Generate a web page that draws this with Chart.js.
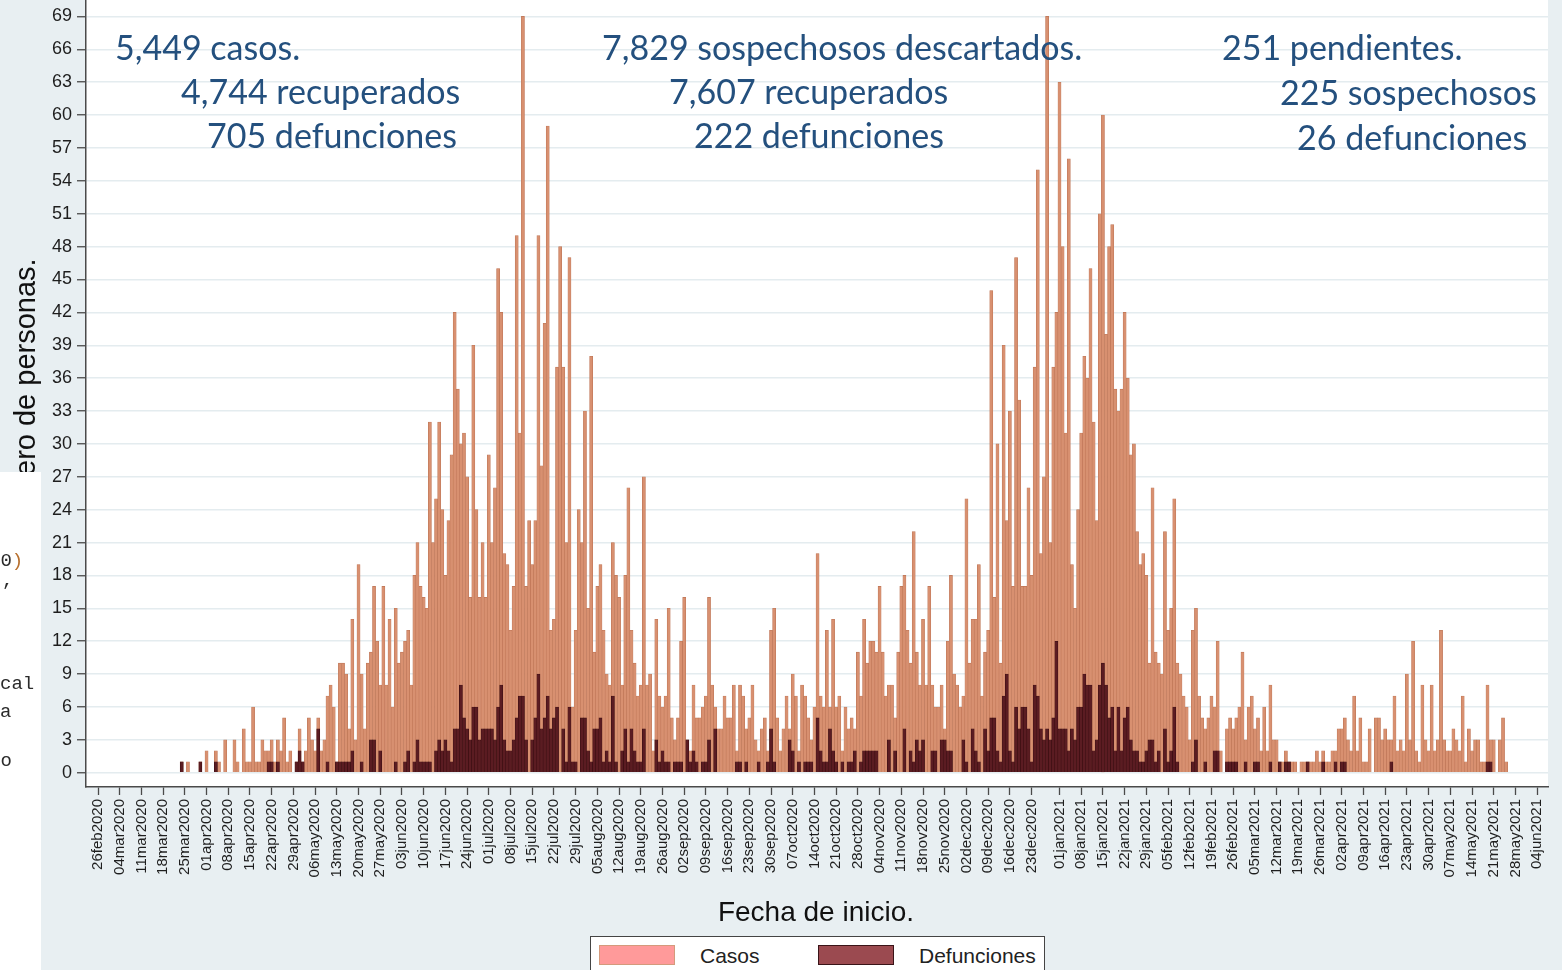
<!DOCTYPE html>
<html>
<head>
<meta charset="utf-8">
<script src="https://cdn.jsdelivr.net/npm/chart.js@4.4.0/dist/chart.umd.min.js"></script>
<style>
  html, body { margin: 0; padding: 0; }
  body {
    width: 1562px; height: 970px; overflow: hidden; position: relative;
    background: #e8eff2; font-family: "Liberation Sans", Arial, sans-serif;
  }
  #chart { position: absolute; left: 0; top: 0; }
  .note {
    position: absolute; white-space: nowrap; color: #24507e;
    font-family: Lato, "Open Sans", sans-serif; font-size: 34px; line-height: 1.2;
  }
  #ytitle {
    position: absolute; left: 0; top: 0; white-space: nowrap; color: #111;
    font-size: 29px; line-height: 33px; transform-origin: left top;
    transform: translate(9px, 476px) rotate(-90deg);
  }
  #side {
    position: absolute; left: 0; top: 472px; width: 41px; height: 498px;
    background: #fff; overflow: hidden;
    font-family: "Liberation Mono", "DejaVu Sans Mono", monospace; font-size: 19px; color: #2b2b2b;
  }
  #side span { position: absolute; white-space: nowrap; line-height: 1; }
  #xtitle {
    position: absolute; left: 0; width: 1632px; top: 896px; text-align: center;
    font-size: 28px; line-height: 32px; color: #111;
  }
  #legend {
    position: absolute; left: 590px; top: 936px; width: 455px; height: 50px;
    background: #fff; border: 1.5px solid #444; box-sizing: border-box;
  }
  #legend .sw { position: absolute; top: 8px; width: 76px; height: 20px; box-sizing: border-box; }
  #legend .lb { position: absolute; top: 7px; font-size: 21px; line-height: 24px; color: #222; }
</style>
</head>
<body>
<canvas id="chart" width="1562" height="970"></canvas>

<div class="note" style="left:115px; top:27px">5,449 casos.</div>
<div class="note" style="left:181px; top:71px">4,744 recuperados</div>
<div class="note" style="left:207px; top:115px">705 defunciones</div>
<div class="note" style="left:602px; top:27px">7,829 sospechosos descartados.</div>
<div class="note" style="left:669px; top:71px">7,607 recuperados</div>
<div class="note" style="left:694px; top:115px">222 defunciones</div>
<div class="note" style="left:1222px; top:27px">251 pendientes.</div>
<div class="note" style="left:1280px; top:72px">225 sospechosos</div>
<div class="note" style="left:1297px; top:117px">26 defunciones</div>

<div id="ytitle">ero de personas.</div>

<div id="side">
  <span style="left:-11px; top:80px">4<span style="position:static">0</span><span style="position:static; color:#b8702e">)</span></span>
  <span style="left:2px; top:100px">,</span>
  <span style="left:0px; top:203px">cal</span>
  <span style="left:0px; top:231px">a</span>
  <span style="left:-11px; top:280px">ro</span>
</div>

<div id="xtitle">Fecha de inicio.</div>

<div id="legend">
  <div class="sw" style="left:8px; background:#ff9a9a; border:1px solid #d49a7c"></div>
  <div class="lb" style="left:109px">Casos</div>
  <div class="sw" style="left:227px; background:#9b4a50; border:1px solid #3a1418"></div>
  <div class="lb" style="left:328px">Defunciones</div>
</div>

<script>
// daily counts by symptom-onset date, starting 26feb2020 (one row per week)
const startDate = '26feb2020';

const casos = [
  0,0,0,0,0,0,0,  0,0,0,0,0,0,0,  0,0,0,0,0,0,0,  0,0,0,0,0,0,1,
  0,1,0,0,0,1,0,  2,0,0,2,1,0,3,  0,0,3,1,0,4,1,  1,6,1,1,3,2,2,
  3,1,3,2,5,1,2,  0,1,4,1,2,5,3,  2,5,2,3,7,8,6,  1,10,10,9,4,14,3,
  19,9,4,10,11,17,12,  8,17,8,14,6,15,10,  11,12,13,8,18,21,17,
  16,15,32,21,25,32,24,  18,23,29,42,35,30,31,  27,16,39,24,16,21,16,
  29,21,26,46,42,20,19,  13,17,49,31,69,17,23,  19,23,49,28,41,59,13,
  14,37,48,37,21,47,6,  13,24,21,33,15,38,11,  17,19,13,9,8,21,18,
  16,8,18,26,13,10,7,  8,27,8,9,2,14,7,  6,7,15,5,3,5,12,
  16,3,2,8,5,5,6,  7,16,8,6,4,4,7,  5,5,8,2,8,7,4,
  5,8,3,2,4,5,2,  13,15,5,2,4,7,4,  9,7,2,8,7,5,3,
  6,20,7,6,13,6,14,  6,7,2,6,4,5,4,  11,7,14,10,12,12,11,
  17,11,7,8,8,5,11,  17,18,13,10,22,11,8,  14,8,17,8,6,6,8,
  4,12,18,9,8,6,7,  25,10,14,14,19,7,11,  13,44,16,30,10,39,23,
  33,17,47,34,17,17,26,  18,37,55,20,27,69,21,  37,42,63,48,31,56,19,
  15,24,31,38,36,46,32,  23,51,60,40,48,50,35,  33,35,42,36,29,30,22,
  19,20,18,10,26,11,10,  9,22,13,15,25,10,9,  7,6,3,13,15,7,5,
  4,5,7,6,12,2,0,  4,5,4,5,6,11,3,  6,7,4,5,2,6,2,
  8,3,3,1,1,2,1,  1,1,0,1,1,1,1,  1,2,1,2,1,1,2,
  2,4,4,5,3,2,7,  2,5,1,1,4,0,5,  5,3,4,3,3,7,2,
  3,2,9,3,12,2,1,  8,3,2,8,2,3,13,  3,2,2,4,3,2,7,
  1,4,2,3,3,1,1,  8,3,3,0,3,5,1
];

const defunciones = [
  0,0,0,0,0,0,0,  0,0,0,0,0,0,0,  0,0,0,0,0,0,0,  0,0,0,0,0,0,1,
  0,0,0,0,0,1,0,  0,0,0,1,0,0,0,  0,0,0,0,0,0,0,  0,0,0,0,0,0,1,
  1,0,1,0,0,0,0,  0,1,2,1,0,0,0,  0,4,0,0,1,0,0,  1,1,1,1,1,2,0,
  0,1,0,0,3,3,0,  2,0,0,0,0,1,0,  0,1,2,0,1,3,1,
  1,1,1,0,2,3,2,  3,2,1,4,4,8,5,  4,3,6,6,3,4,4,
  4,4,3,6,8,3,2,  2,3,5,7,7,3,0,  3,5,9,4,5,7,4,
  5,6,0,4,1,6,1,  1,0,5,5,2,1,4,  4,5,1,2,1,7,1,
  0,2,4,1,4,2,1,  1,4,0,0,0,3,1,  2,1,1,0,1,1,1,
  0,3,1,2,1,0,1,  1,3,0,4,0,0,0,  0,0,0,1,1,0,1,
  0,0,0,1,0,0,1,  4,1,0,0,0,0,3,  2,0,1,0,1,1,1,
  0,5,2,1,1,4,2,  1,0,1,0,1,1,2,  0,1,2,2,2,2,2,
  0,0,0,3,0,2,0,  0,4,0,2,1,3,2,  3,0,0,2,2,0,3,
  3,2,2,0,0,0,3,  1,0,4,2,1,0,4,  2,5,5,2,1,7,9,
  2,1,6,4,6,6,4,  1,8,7,4,3,4,3,  5,12,4,4,4,2,4,
  3,6,6,9,8,8,2,  3,8,10,8,5,6,2,  6,2,5,6,3,2,2,
  1,1,2,3,3,1,2,  0,4,1,2,6,1,0,  0,0,0,1,3,0,0,
  1,0,0,2,2,0,0,  1,1,1,1,0,0,1,  0,0,1,1,0,0,0,
  1,0,0,1,0,1,1,  0,0,0,0,0,1,0,  0,0,0,1,0,0,0,
  1,0,1,1,0,0,0,  0,0,0,0,0,0,0,  0,0,0,0,1,0,0,
  0,0,0,0,0,0,0,  0,0,0,0,0,0,0,  0,0,0,0,0,0,0,
  0,0,0,0,0,0,0,  1,1,0,0,0,0,0
];

const yTicks = [0,3,6,9,12,15,18,21,24,27,30,33,36,39,42,45,48,51,54,57,60,63,66,69];

const tickLabels = [
  '26feb2020','04mar2020','11mar2020','18mar2020','25mar2020','01apr2020','08apr2020',
  '15apr2020','22apr2020','29apr2020','06may2020','13may2020','20may2020','27may2020',
  '03jun2020','10jun2020','17jun2020','24jun2020','01jul2020','08jul2020','15jul2020',
  '22jul2020','29jul2020','05aug2020','12aug2020','19aug2020','26aug2020','02sep2020',
  '09sep2020','16sep2020','23sep2020','30sep2020','07oct2020','14oct2020','21oct2020',
  '28oct2020','04nov2020','11nov2020','18nov2020','25nov2020','02dec2020','09dec2020',
  '16dec2020','23dec2020','01jan2021','08jan2021','15jan2021','22jan2021','29jan2021',
  '05feb2021','12feb2021','19feb2021','26feb2021','05mar2021','12mar2021','19mar2021',
  '26mar2021','02apr2021','09apr2021','16apr2021','23apr2021','30apr2021','07may2021',
  '14may2021','21may2021','28may2021','04jun2021'
];

const months = ['jan','feb','mar','apr','may','jun','jul','aug','sep','oct','nov','dec'];

function parseDay(s) {
  const d = +s.slice(0, 2), m = months.indexOf(s.slice(2, 5)), y = +s.slice(5);
  return Date.UTC(y, m, d);
}
const t0 = parseDay(startDate);
const dayOf = s => Math.round((parseDay(s) - t0) / 86400000);

const tickDays = tickLabels.map(dayOf);
const labelByDay = {};
tickLabels.forEach((s, i) => { labelByDay[tickDays[i]] = s; });

// zero days are left empty so no sliver gets drawn on the baseline
const toPoints = arr => arr.map((v, i) => ({ x: i, y: v > 0 ? v : null }));

const font = '"Liberation Sans", Arial, sans-serif';

const plotBg = {
  id: 'plotBg',
  beforeDraw(chart) {
    const { ctx, chartArea: a } = chart;
    ctx.save();
    ctx.fillStyle = '#ffffff';
    ctx.fillRect(a.left, 0, a.right - a.left, a.bottom);
    ctx.restore();
  }
};

new Chart(document.getElementById('chart'), {
  type: 'bar',
  data: {
    datasets: [
      {
        label: 'Defunciones',
        data: toPoints(defunciones),
        backgroundColor: '#5b1c22',
        borderColor: '#3a0e12',
        borderWidth: 0.6,
        borderSkipped: 'bottom',
        grouped: false,
        barPercentage: 1,
        categoryPercentage: 1,
        order: 0
      },
      {
        label: 'Casos',
        data: toPoints(casos),
        backgroundColor: '#d89070',
        borderColor: '#bd7556',
        borderWidth: 0.6,
        borderSkipped: 'bottom',
        grouped: false,
        barPercentage: 1,
        categoryPercentage: 1,
        order: 1
      }
    ]
  },
  options: {
    responsive: false,
    animation: false,
    layout: { padding: { left: 0, right: 14, top: 0, bottom: 0 } },
    plugins: {
      legend: { display: false },
      tooltip: { enabled: false }
    },
    scales: {
      x: {
        type: 'linear',
        offset: false,
        min: -3.87,
        max: 467.5,
        afterBuildTicks: s => { s.ticks = tickDays.map(v => ({ value: v })); },
        afterFit: s => { s.height = 183; s.paddingLeft = 0; s.paddingRight = 0; },
        ticks: {
          autoSkip: false,
          minRotation: 90,
          maxRotation: 90,
          padding: 4,
          color: '#1e1e1e',
          font: { family: font, size: 15 },
          callback: v => labelByDay[v] || ''
        },
        grid: {
          offset: false,
          drawOnChartArea: false,
          tickLength: 8,
          tickColor: '#4a4a4a',
          tickWidth: 1.3
        },
        border: { color: '#4a4a4a', width: 1.5 }
      },
      y: {
        min: -1.3,
        max: 70.5,
        afterBuildTicks: s => { s.ticks = yTicks.map(v => ({ value: v })); },
        afterFit: s => { s.width = 86; s.paddingTop = 0; s.paddingBottom = 0; },
        ticks: {
          padding: 5,
          color: '#1e1e1e',
          font: { family: font, size: 18 }
        },
        grid: {
          color: '#e4ecef',
          lineWidth: 1.5,
          tickLength: 9,
          tickColor: '#4a4a4a',
          tickWidth: 1.3
        },
        border: { color: '#4a4a4a', width: 1.5 }
      }
    }
  },
  plugins: [plotBg]
});
</script>
</body>
</html>
